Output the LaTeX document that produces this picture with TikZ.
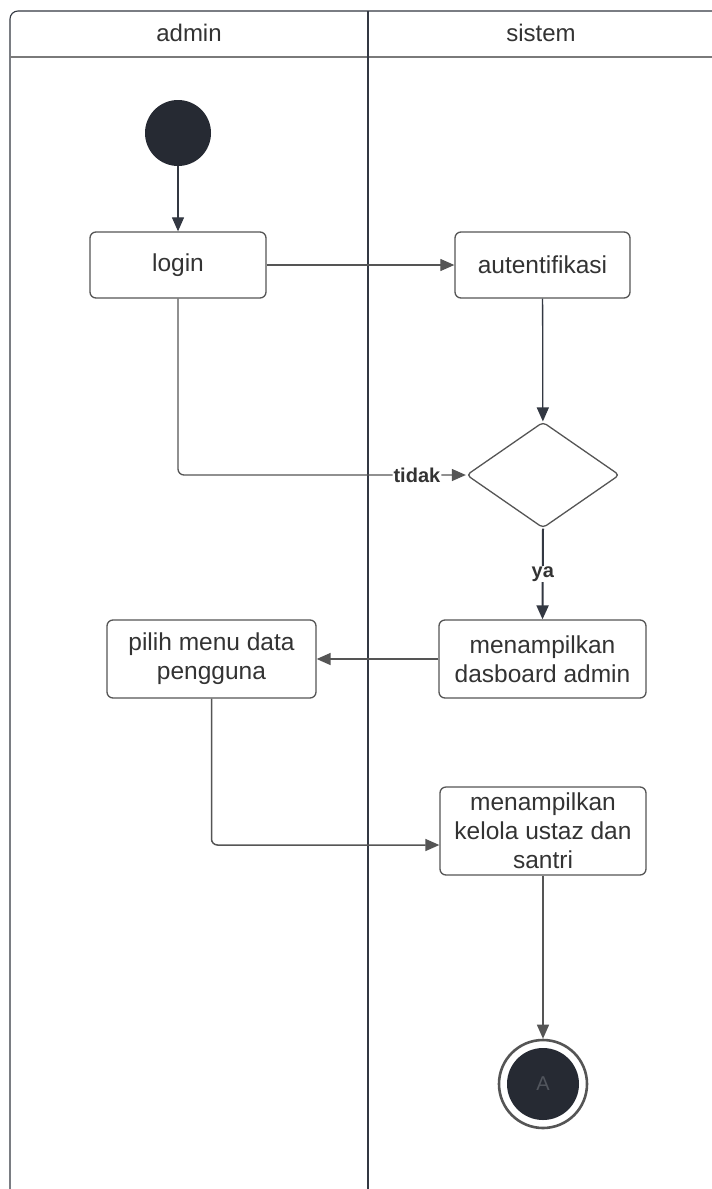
\documentclass[tikz,border=0pt]{standalone}
\usepackage{fontspec}
\setmainfont{Liberation Sans}
\usetikzlibrary{arrows.meta,shapes.geometric}
\definecolor{linec}{HTML}{555555}
\definecolor{darkc}{HTML}{333842}
\definecolor{txtc}{HTML}{333333}
\definecolor{fillc}{HTML}{262A33}
\definecolor{hdrc}{HTML}{7A7A7A}
\tikzset{
  act/.style={draw=linec, line width=1.3pt, rounded corners=6pt, fill=white,
    text=txtc, align=center, font=\fontsize{24.5}{29}\selectfont, inner sep=4pt},
  flow/.style={draw=linec, line width=1.5pt, -{Triangle[length=14pt,width=12pt]}},
  lbl/.style={fill=white, text=txtc, font=\bfseries\fontsize{20}{23}\selectfont, inner sep=1pt},
  lane/.style={draw=darkc, line width=1.1pt},
}
\begin{document}
\begin{tikzpicture}[x=1pt,y=-1pt]
\useasboundingbox (0,0) rectangle (712,1189);
\fill[white] (0,0) rectangle (712,1189);
% swimlane frame
\draw[lane, rounded corners=8pt] (10,1189) -- (10,11) -- (712,11);
\draw[draw=hdrc, line width=2.6pt] (10,57) -- (712,57);
\draw[lane] (368,11) -- (368,1189);
\node[text=txtc, font=\fontsize{24}{28}\selectfont] (hadmin) at (189,33) {admin};
\node[text=txtc, font=\fontsize{24}{28}\selectfont] (hsistem) at (541,33) {sistem};
% nodes
\node[circle, fill=fillc, minimum size=66pt, inner sep=0] (start) at (178,133) {};
\node[act, minimum width=176pt, minimum height=66pt] (login) at (178,265) {login};
\node[act, minimum width=175pt, minimum height=66pt] (auth) at (542.5,265) {autentifikasi};
\node[diamond, draw=linec, line width=1.3pt, fill=white, rounded corners=4pt, inner sep=0,
  minimum width=153pt, minimum height=106pt] (dec) at (543,475) {};
\node[act, minimum width=207pt, minimum height=78pt] (dash) at (542.5,659) {menampilkan\\dasboard admin};
\node[act, minimum width=209pt, minimum height=78pt] (pilih) at (211.5,659) {pilih menu data\\pengguna};
\node[act, minimum width=206pt, minimum height=88pt] (kelola) at (543,831) {menampilkan\\kelola ustaz dan\\santri};
\node[circle, draw=linec, line width=2.6pt, fill=white, minimum size=88pt, inner sep=0] (endo) at (543,1084) {};
\node[circle, fill=fillc, minimum size=72pt, inner sep=0, text=darkc!85!white,
  font=\fontsize{20}{24}\selectfont] (endi) at (543,1084) {A};
% connectors
\draw[flow, draw=darkc, line width=1.2pt] (start) -- (login);
\draw[flow, line width=1.2pt] (login) -- (auth);
\draw[flow, draw=darkc, line width=1.3pt] (auth) -- (dec);
\draw[flow, line width=1.3pt, rounded corners=6pt] (login.south) |- (dec.west)
  node[lbl, pos=0.915] {tidak};
\draw[flow, draw=darkc, line width=2pt] (dec.south) -- node[lbl] {ya} (dash.north);
\draw[flow] (dash) -- (pilih);
\draw[flow, rounded corners=6pt] (pilih.south) |- ([yshift=-14pt]kelola.west);
\draw[flow] (kelola) -- (endo);
\end{tikzpicture}
\end{document}
